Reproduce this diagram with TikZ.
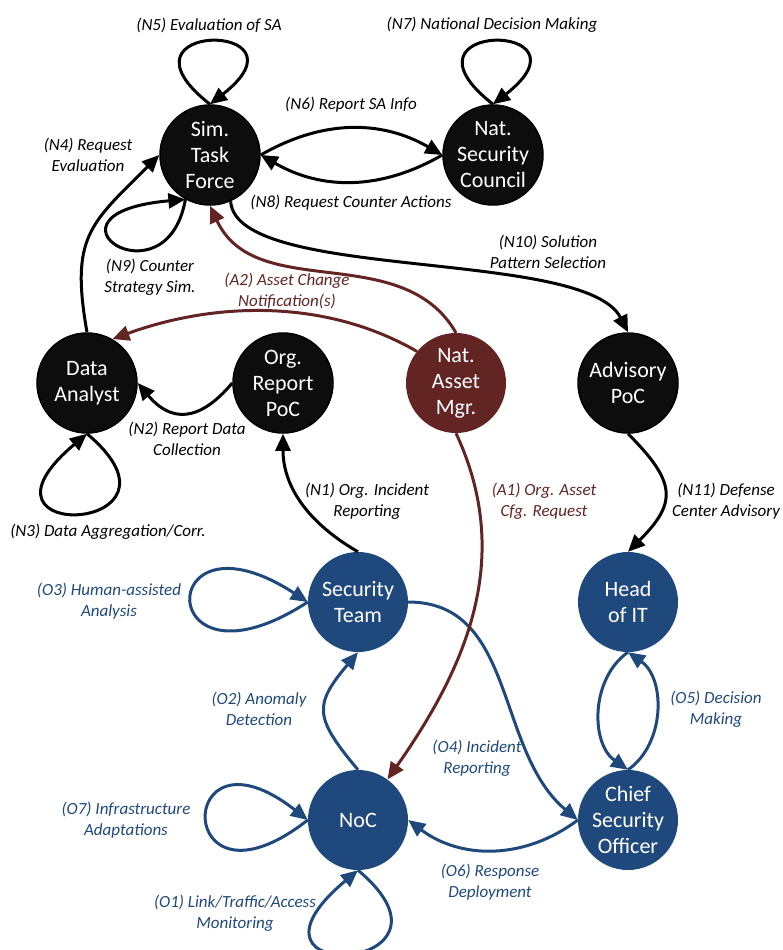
\documentclass[tikz,border=0pt]{standalone}
\usepackage{fontspec}
\setmainfont{Carlito}
\usetikzlibrary{arrows.meta}
\definecolor{nodeblack}{HTML}{0D0D0D}
\definecolor{maroonc}{HTML}{632523}
\definecolor{navyc}{HTML}{1F497D}
\tikzset{
  circnode/.style={circle, minimum size=100pt, inner sep=0pt, text=white, align=center, font=\fontsize{22}{26}\selectfont},
  blk/.style={circnode, fill=nodeblack, draw=black, line width=1.5pt},
  mar/.style={circnode, fill=maroonc},
  blu/.style={circnode, fill=navyc},
  conn/.style={line width=3pt, -{Triangle[length=17pt,width=15pt]}},
  lbl/.style={align=center, font=\fontsize{17}{20.5}\selectfont\itshape},
}
\begin{document}
\begin{tikzpicture}[x=1pt,y=-1pt]
\useasboundingbox (0,0) rectangle (783,950);
% nodes
\node[blk] (stf) at (210,155) {Sim.\\Task\\Force};
\node[blk] (nsc) at (493,155) {Nat.\\Security\\Council};
\node[blk] (da) at (87,383) {Data\\Analyst};
\node[blk] (orp) at (283,383) {Org.\\Report\\PoC};
\node[mar] (nam) at (456,383) {Nat.\\Asset\\Mgr.};
\node[blk] (adv) at (628,383) {Advisory\\PoC};
\node[blu] (st) at (358,602) {Security\\Team};
\node[blu] (hit) at (628,602) {Head\\of IT};
\node[blu] (noc) at (358,820) {NoC};
\node[blu] (cso) at (628,820) {Chief\\Security\\Officer};
% black connectors
\draw[conn] (stf.north) to[out=142,in=38,distance=136pt] (stf.north);
\draw[conn] (nsc.north) to[out=142,in=38,distance=136pt] (nsc.north);
\draw[conn] (stf.241) to[out=-100,in=185,out distance=110pt,in distance=160pt] (stf.241);
\draw[conn] (da.north) to[out=100,in=225,looseness=1.3] (stf.west);
\draw[conn] (stf.east) to[bend left=30] (nsc.west);
\draw[conn] (nsc.west) to[bend left=30] (stf.east);
\draw[conn] (stf.-66) to[out=-86,in=117,out distance=81pt,in distance=95pt] (adv.north);
\draw[conn] (orp.west) to[out=-130,in=-50,looseness=1.4] (da.east);
\draw[conn] (da.south) to[out=-40,in=-140,out distance=155pt,in distance=175pt] (da.south);
\draw[conn] (st.north) to[out=150,in=-90] (orp.south);
\draw[conn] (adv.south) to[out=-45,in=45,looseness=1.5] (hit.north);
% maroon connectors
\draw[conn,maroonc] (nam.north) to[out=120,in=-65] (stf.south);
\draw[conn,maroonc] (nam.141) to[out=150,in=20,looseness=0.9] (da.60);
% blue connectors
\draw[conn,navyc] (st.west) to[out=213,in=147,distance=185pt] (st.west);
\draw[conn,navyc] (noc.west) to[out=218,in=142,distance=171pt] (noc.west);
\draw[conn,navyc] (noc.south) to[out=-40,in=-140,out distance=160pt,in distance=185pt] (noc.south);
\draw[conn,navyc] (noc.north) to[out=130,in=-130,looseness=1.5] (st.south);
\draw[conn,navyc] (st.east) to[out=0,in=140] (cso.west);
\draw[conn,navyc] (cso.west) to[bend left=37] (noc.east);
\draw[conn,navyc] (hit.south) to[bend right=55] (cso.north);
\draw[conn,navyc] (cso.north) to[bend right=55] (hit.south);
\draw[conn,maroonc] (nam.south) to[out=-65,in=55] (noc.54);
% labels
\node[lbl] (lN5) at (209,25) {(N5) Evaluation of SA};
\node[lbl] (lN7) at (492,25) {(N7) National Decision Making};
\node[lbl] (lN6) at (351,105) {(N6) Report SA Info};
\node[lbl] (lN8) at (351,203) {(N8) Request Counter Actions};
\node[lbl] (lN4) at (88,155) {(N4) Request\\Evaluation};
\node[lbl] (lN9) at (150,277) {(N9) Counter\\Strategy Sim.};
\node[lbl] (lN10) at (548,252) {(N10) Solution\\Pattern Selection};
\node[lbl,text=maroonc] (lA2) at (287,291) {(A2) Asset Change\\Notification(s)};
\node[lbl] (lN2) at (187,439) {(N2) Report Data\\Collection};
\node[lbl] (lN3) at (108,532) {(N3) Data Aggregation/Corr.};
\node[lbl] (lN1) at (367,501) {(N1) Org. Incident\\Reporting};
\node[lbl,text=maroonc] (lA1) at (544,501) {(A1) Org. Asset\\Cfg. Request};
\node[lbl] (lN11) at (726,501) {(N11) Defense\\Center Advisory};
\node[lbl,text=navyc] (lO3) at (109,601) {(O3) Human-assisted\\Analysis};
\node[lbl,text=navyc] (lO2) at (259,709) {(O2) Anomaly\\Detection};
\node[lbl,text=navyc] (lO5) at (716,709) {(O5) Decision\\Making};
\node[lbl,text=navyc] (lO4) at (477,758) {(O4) Incident\\Reporting};
\node[lbl,text=navyc] (lO7) at (126,820) {(O7) Infrastructure\\Adaptations};
\node[lbl,text=navyc] (lO6) at (490,882) {(O6) Response\\Deployment};
\node[lbl,text=navyc] (lO1) at (235,913) {(O1) Link/Traffic/Access\\Monitoring};
\end{tikzpicture}
\end{document}
